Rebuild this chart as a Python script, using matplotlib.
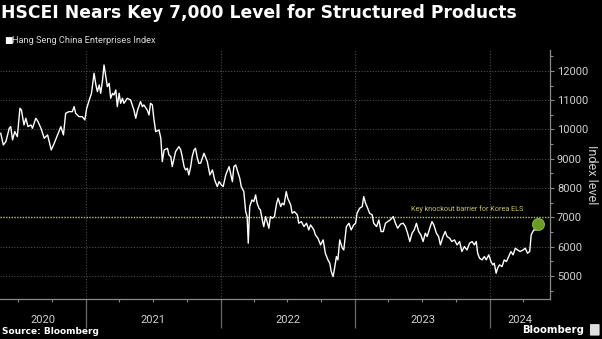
import matplotlib
matplotlib.use("Agg")
import matplotlib.pyplot as plt
import matplotlib.dates as m_dates
import matplotlib.transforms as mtransforms
from matplotlib.patches import FancyBboxPatch
from matplotlib.ticker import MultipleLocator
import pandas as pd

# Hang Seng China Enterprises Index
dates = ['2020-05-15', '2020-05-22', '2020-05-29', '2020-06-07', '2020-06-11', '2020-06-16',
         '2020-06-22', '2020-06-29', '2020-07-06', '2020-07-10', '2020-07-17', '2020-07-22',
         '2020-07-28', '2020-08-05', '2020-08-09', '2020-08-18', '2020-08-24', '2020-09-01',
         '2020-09-10', '2020-09-19', '2020-09-29', '2020-10-07', '2020-10-16', '2020-10-25',
         '2020-11-01', '2020-11-07', '2020-11-16', '2020-11-25', '2020-11-30', '2020-12-04',
         '2020-12-13', '2020-12-22', '2020-12-29', '2021-01-03', '2021-01-10', '2021-01-16',
         '2021-01-23', '2021-01-28', '2021-02-01', '2021-02-06', '2021-02-10', '2021-02-15',
         '2021-02-19', '2021-02-24', '2021-02-28', '2021-03-05', '2021-03-09', '2021-03-14',
         '2021-03-18', '2021-03-23', '2021-03-27', '2021-04-01', '2021-04-05', '2021-04-10',
         '2021-04-14', '2021-04-23', '2021-05-02', '2021-05-11', '2021-05-16', '2021-05-21',
         '2021-05-29', '2021-06-03', '2021-06-07', '2021-06-16', '2021-06-21', '2021-06-25',
         '2021-06-30', '2021-07-04', '2021-07-09', '2021-07-18', '2021-07-23', '2021-07-27',
         '2021-08-01', '2021-08-10', '2021-08-14', '2021-08-19', '2021-08-23', '2021-08-28',
         '2021-09-01', '2021-09-10', '2021-09-15', '2021-09-19', '2021-09-24', '2021-09-28',
         '2021-10-03', '2021-10-07', '2021-10-12', '2021-10-16', '2021-10-21', '2021-10-25',
         '2021-10-30', '2021-11-03', '2021-11-08', '2021-11-17', '2021-11-26', '2021-12-03',
         '2021-12-10', '2021-12-16', '2021-12-23', '2021-12-28', '2022-01-03', '2022-01-08',
         '2022-01-15', '2022-01-24', '2022-01-28', '2022-02-02', '2022-02-06', '2022-02-11',
         '2022-02-15', '2022-02-22', '2022-02-26', '2022-03-05', '2022-03-10', '2022-03-14',
         '2022-03-17', '2022-03-21', '2022-03-27', '2022-04-01', '2022-04-06', '2022-04-10',
         '2022-04-15', '2022-04-19', '2022-04-24', '2022-04-28', '2022-05-03', '2022-05-07',
         '2022-05-12', '2022-05-16', '2022-05-21', '2022-05-27', '2022-06-02', '2022-06-06',
         '2022-06-13', '2022-06-17', '2022-06-22', '2022-06-28', '2022-07-02', '2022-07-10',
         '2022-07-14', '2022-07-20', '2022-07-28', '2022-08-01', '2022-08-08', '2022-08-15',
         '2022-08-22', '2022-08-28', '2022-09-02', '2022-09-11', '2022-09-15', '2022-09-22',
         '2022-09-29', '2022-10-06', '2022-10-12', '2022-10-19', '2022-10-24', '2022-10-28',
         '2022-11-02', '2022-11-06', '2022-11-11', '2022-11-15', '2022-11-20', '2022-11-27',
         '2022-12-01', '2022-12-08', '2022-12-15', '2022-12-21', '2022-12-28', '2023-01-02',
         '2023-01-06', '2023-01-13', '2023-01-20', '2023-01-24', '2023-01-29', '2023-02-02',
         '2023-02-09', '2023-02-16', '2023-02-20', '2023-02-28', '2023-03-06', '2023-03-12',
         '2023-03-18', '2023-03-24', '2023-03-30', '2023-04-06', '2023-04-14', '2023-04-20',
         '2023-04-26', '2023-05-04', '2023-05-11', '2023-05-17', '2023-05-23', '2023-05-29',
         '2023-06-04', '2023-06-10', '2023-06-16', '2023-06-22', '2023-06-28', '2023-07-04',
         '2023-07-10', '2023-07-15', '2023-07-22', '2023-07-28', '2023-08-02', '2023-08-09',
         '2023-08-15', '2023-08-20', '2023-08-27', '2023-09-02', '2023-09-07', '2023-09-14',
         '2023-09-20', '2023-09-27', '2023-10-04', '2023-10-11', '2023-10-17', '2023-10-24',
         '2023-10-31', '2023-11-07', '2023-11-14', '2023-11-20', '2023-11-25', '2023-11-29',
         '2023-12-04', '2023-12-11', '2023-12-17', '2023-12-22', '2023-12-29', '2024-01-04',
         '2024-01-09', '2024-01-13', '2024-01-18', '2024-01-22', '2024-01-27', '2024-02-03',
         '2024-02-09', '2024-02-15', '2024-02-21', '2024-02-27', '2024-03-04', '2024-03-10',
         '2024-03-16', '2024-03-23', '2024-03-31', '2024-04-06', '2024-04-12', '2024-04-18',
         '2024-04-22', '2024-04-29', '2024-05-06', '2024-05-10']

values = [9870, 9472, 9586, 10041, 10098, 9643, 9927, 9757, 10724, 10667, 10155, 10383,
          10098, 10155, 10041, 10383, 10269, 10041, 9700, 9814, 9301, 9529, 9814, 10098,
          9814, 10553, 10610, 10610, 10781, 10553, 10439, 10439, 10326, 10724, 11008, 11236,
          11919, 11521, 11293, 11521, 11236, 11691, 12203, 11805, 11464, 11577, 11065, 11236,
          11179, 11350, 10781, 11236, 10895, 11065, 10895, 11065, 11008, 10667, 10383, 10667,
          10952, 10781, 10838, 10667, 10496, 10895, 10838, 10383, 9927, 9984, 9700, 8903,
          9301, 9358, 9131, 9074, 8732, 9017, 9244, 9415, 9301, 9074, 8732, 8619,
          8676, 8448, 8732, 9074, 9301, 9358, 9017, 8846, 8850, 9188, 8903, 8448,
          8619, 8277, 8050, 8220, 8107, 8050, 8448, 8732, 8505, 8220, 8732, 8789,
          8619, 8334, 8050, 7879, 7196, 7025, 6115, 7367, 7594, 7538, 7765, 7481,
          7310, 7253, 6912, 6684, 7025, 6855, 6627, 7025, 6969, 7025, 7481, 7651,
          7367, 7481, 7424, 7879, 7651, 7424, 7139, 7196, 7082, 6798, 6855, 6684,
          6798, 6570, 6741, 6570, 6400, 6286, 6058, 6229, 5774, 5546, 5432, 5148,
          4977, 5261, 5660, 5546, 6229, 5944, 5887, 6684, 6798, 6570, 6741, 6798,
          7139, 7310, 7367, 7708, 7481, 7367, 7139, 7082, 6798, 6684, 6912, 6514,
          6514, 6798, 6855, 6912, 7025, 6798, 6627, 6770, 6798, 6684, 6457, 6172,
          6457, 6570, 6798, 6514, 6400, 6172, 6457, 6343, 6627, 6855, 6741, 6457,
          6343, 6058, 6343, 6514, 6343, 6286, 6172, 6229, 6058, 6172, 5831, 6001,
          5887, 6115, 6172, 6058, 6172, 5774, 5603, 5546, 5660, 5546, 5717, 5489,
          5375, 5432, 5091, 5261, 5375, 5318, 5546, 5489, 5660, 5831, 5717, 5944,
          5887, 5831, 5887, 5944, 5774, 5831, 6400, 6570, 6570, 6770]

barrier = 7000
barrier_label = "Key knockout barrier for Korea ELS"
years = ['2020', '2021', '2022', '2023', '2024']
x_start, x_end = '2020-05-13', '2024-06-12'

dates = pd.to_datetime(dates)
x0, x1 = pd.Timestamp(x_start), pd.Timestamp(x_end)

plt.rcParams['font.family'] = ['Roboto', 'DejaVu Sans']

fig = plt.figure(figsize=(6.02, 3.39), dpi=100, facecolor='black')
ax = fig.add_axes([0, 0.118, 0.9136, 0.7345], facecolor='black')

# main series
ax.plot(dates, values, color='white', lw=1.0, solid_joinstyle='round', zorder=3)
ax.plot(dates[-1], values[-1], 'o', ms=8.5, color='#6b9b22', mec='#86b63a', mew=0.8, zorder=4)

# barrier
ax.axhline(barrier, color='#bdb54a', lw=1.0, ls=(0, (1, 1)), zorder=2)
ax.annotate(barrier_label, xy=(pd.Timestamp('2024-03-31'), barrier), xytext=(0, 3),
            textcoords='offset points', ha='right', va='bottom',
            color='#c9c25a', fontsize=5.2)

ax.set_xlim(x0, x1)
ax.set_ylim(4210, 12715)

# y axis on the right
ax.yaxis.tick_right()
ax.yaxis.set_label_position('right')
ax.yaxis.set_minor_locator(MultipleLocator(500))
ax.set_yticks(range(5000, 12001, 1000))
ax.tick_params(axis='y', which='major', colors='#8a8a8a', labelcolor='#d0d0d0',
               labelsize=8, length=3, width=0.8, pad=2)
ax.tick_params(axis='y', which='minor', colors='#8a8a8a', length=2, width=0.8)
ax.set_ylabel("Index level", color='#d0d0d0', fontsize=9, rotation=270, labelpad=7)

# x axis: long year separators, quarterly minor ticks
ax.xaxis.set_major_locator(m_dates.YearLocator())
ax.xaxis.set_minor_locator(m_dates.MonthLocator(bymonth=[4, 7, 10]))
ax.xaxis.set_major_formatter(plt.NullFormatter())
ax.tick_params(axis='x', which='major', colors='#6a6a6a', length=21, width=0.9)
ax.tick_params(axis='x', which='minor', colors='#8a8a8a', length=2.5, width=0.8)

trans = mtransforms.blended_transform_factory(ax.transData, ax.transAxes)
for y in years:
    a = max(pd.Timestamp(f'{y}-01-01'), x0)
    b = min(pd.Timestamp(f'{int(y) + 1}-01-01'), x1)
    ax.text(a + (b - a) / 2, -0.083, y, transform=trans, ha='center', va='center',
            color='#d0d0d0', fontsize=8)

ax.grid(True, which='major', color='#4a4a4a', lw=0.8, ls=(0, (1, 1.5)))
ax.set_axisbelow(True)

for s in ['left', 'top']:
    ax.spines[s].set_visible(False)
for s in ['right', 'bottom']:
    ax.spines[s].set_color('#8a8a8a')
    ax.spines[s].set_linewidth(0.9)

# titles and footer
fig.text(0.002, 0.962, "HSCEI Nears Key 7,000 Level for Structured Products",
         color='white', fontsize=12.3, fontweight='bold', family='DejaVu Sans',
         va='center', ha='left')
fig.text(0.007, 0.882, "\u25a0", color='white', fontsize=6.5, va='center', ha='left')
fig.text(0.02, 0.882, "Hang Seng China Enterprises Index", color='#d8d8d8',
         fontsize=6.7, va='center', ha='left')
fig.text(0.004, 0.022, "Source: Bloomberg", color='white', fontsize=6.5, fontweight='bold',
         family='DejaVu Sans', va='center', ha='left')
fig.text(0.971, 0.027, "Bloomberg", color='white', fontsize=7.3, fontweight='bold',
         family='DejaVu Sans', va='center', ha='right')
fig.patches.append(FancyBboxPatch((0.982, 0.012), 0.012, 0.03, boxstyle='round,pad=0.002',
                                  transform=fig.transFigure, facecolor='#e0e0e0',
                                  edgecolor='none'))

fig.savefig('out.png', dpi=100, facecolor='black')
